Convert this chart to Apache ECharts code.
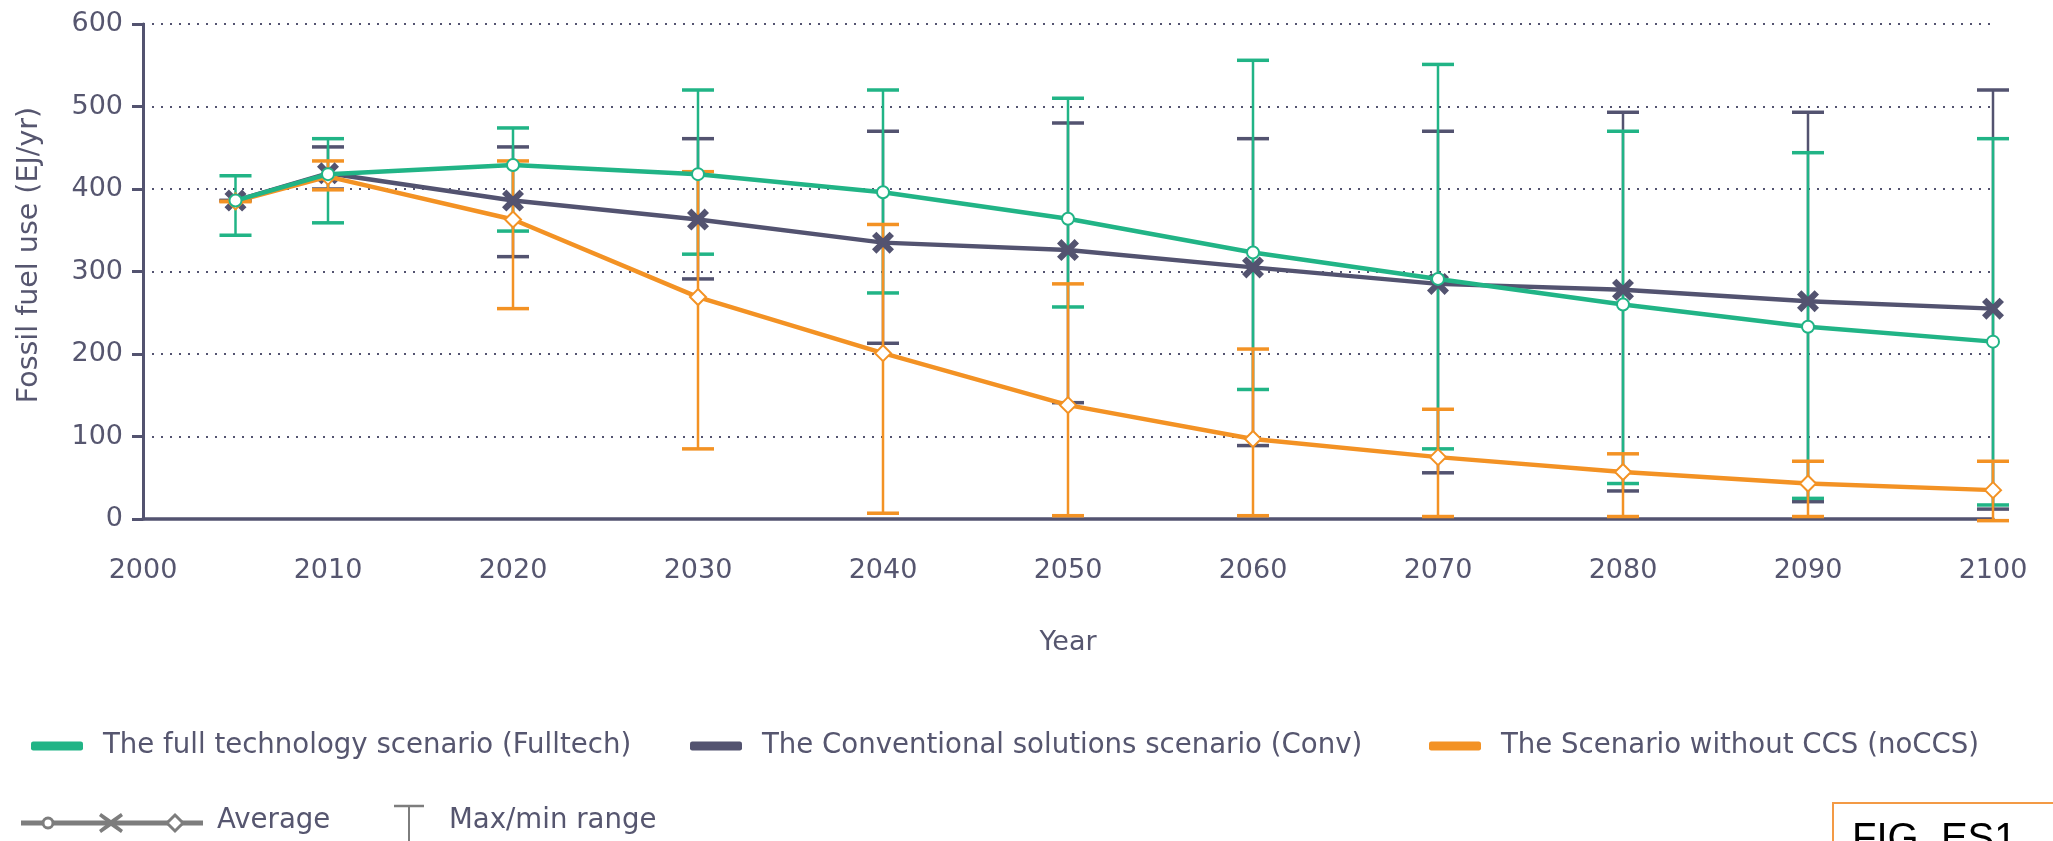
<!DOCTYPE html>
<html>
<head>
<meta charset="utf-8">
<title>Fossil fuel use</title>
<script src="https://cdn.jsdelivr.net/npm/echarts@6/dist/echarts.min.js"></script>
<style>
  html, body { margin: 0; padding: 0; background: #fff; }
  #chart { width: 2053px; height: 841px; }
</style>
</head>
<body>
<div id="chart"></div>
<script>
// years on the x axis
var years = [2005, 2010, 2020, 2030, 2040, 2050, 2060, 2070, 2080, 2090, 2100];
var xTicks = [2000, 2010, 2020, 2030, 2040, 2050, 2060, 2070, 2080, 2090, 2100];

// Fulltech
var fullAvg = [386, 418, 429, 418, 396, 364, 323, 291, 260, 233, 215];
var fullMax = [416, 461, 474, 520, 520, 510, 556, 551, 470, 444, 461];
var fullMin = [344, 359, 349, 321, 274, 257, 157, 85, 43, 25, 17];

// Conv
var convAvg = [386, 419, 386, 363, 335, 326, 305, 285, 278, 264, 255];
var convMax = [386, 451, 451, 461, 470, 480, 461, 470, 493, 493, 520];
var convMin = [386, 400, 318, 291, 213, 141, 89, 56, 34, 21, 12];

// noCCS
var noccsAvg = [385, 415, 363, 269, 201, 138, 97, 75, 57, 43, 35];
var noccsMax = [385, 434, 434, 421, 357, 285, 206, 133, 79, 70, 70];
var noccsMin = [385, 399, 255, 85, 7, 4, 4, 3, 3, 3, -2];

var names = [
  'The full technology scenario (Fulltech)',
  'The Conventional solutions scenario (Conv)',
  'The Scenario without CCS (noCCS)'
];

var green = '#21b486';
var slate = '#535370';
var orange = '#f39224';
var textColor = '#56566f';
var font = 'DejaVu Sans';

var pairs = function (avg) {
  return years.map(function (y, i) { return [y, avg[i]]; });
};
var ranges = function (hi, lo) {
  return years.map(function (y, i) { return [y, hi[i], lo[i]]; });
};

// vertical bar with caps, drawn from the axis scale
var errorBar = function (color) {
  return function (params, api) {
    var x = api.value(0);
    var top = api.coord([x, api.value(1)]);
    var bot = api.coord([x, api.value(2)]);
    var half = 16;
    return {
      type: 'group',
      children: [
        { type: 'line', shape: { x1: top[0], y1: top[1], x2: bot[0], y2: bot[1] },
          style: { stroke: color, lineWidth: 2.5 } },
        { type: 'line', shape: { x1: top[0] - half, y1: top[1], x2: top[0] + half, y2: top[1] },
          style: { stroke: color, lineWidth: 3.5 } },
        { type: 'line', shape: { x1: bot[0] - half, y1: bot[1], x2: bot[0] + half, y2: bot[1] },
          style: { stroke: color, lineWidth: 3.5 } }
      ]
    };
  };
};

var crossPath = 'path://M2,0 L5,3 L8,0 L10,2 L7,5 L10,8 L8,10 L5,7 L2,10 L0,8 L3,5 L0,2 Z';

var legendBase = function (left, name, color) {
  return {
    left: left,
    top: 726,
    orient: 'horizontal',
    icon: 'roundRect',
    itemWidth: 52,
    itemHeight: 9,
    data: [{ name: name, itemStyle: { color: color, borderWidth: 0 } }],
    textStyle: { color: textColor, fontSize: 27.6, fontFamily: font, padding: [0, 0, 0, 15], lineHeight: 30 }
  };
};

var chartDom = document.getElementById('chart');
var myChart = echarts.init(chartDom);

var gray = '#7d7d7d';
var row2 = 823;

var option = {
  animation: false,
  backgroundColor: '#fff',
  grid: { left: 143, right: 60, top: 24, bottom: 322 },
  legend: [
    legendBase(26, names[0], green),
    legendBase(685, names[1], slate),
    legendBase(1424, names[2], orange)
  ],
  xAxis: {
    type: 'value',
    min: 2000,
    max: 2100,
    interval: 10,
    name: 'Year',
    nameLocation: 'middle',
    nameGap: 110,
    nameTextStyle: { color: textColor, fontSize: 27, fontFamily: font },
    axisLine: { show: true, lineStyle: { color: slate, width: 3.5 } },
    axisTick: { show: false },
    splitLine: { show: false },
    axisLabel: {
      color: textColor, fontSize: 27, fontFamily: font, margin: 38,
      formatter: function (v) { return String(v); }
    }
  },
  yAxis: {
    type: 'value',
    min: 0,
    max: 600,
    interval: 100,
    name: 'Fossil fuel use (EJ/yr)',
    nameLocation: 'middle',
    nameGap: 99,
    nameTextStyle: { color: textColor, fontSize: 28.5, fontFamily: font, padding: [0, 0, 0, 33] },
    axisLine: { show: true, lineStyle: { color: slate, width: 3 } },
    axisTick: { show: true, length: 11, lineStyle: { color: slate, width: 3 } },
    axisLabel: { color: textColor, fontSize: 27, fontFamily: font, margin: 20 },
    splitLine: { show: true, lineStyle: { color: slate, width: 2, type: [2, 7] } }
  },
  graphic: [
    { type: 'line', shape: { x1: 21, y1: row2, x2: 203, y2: row2 }, style: { stroke: gray, lineWidth: 5 } },
    { type: 'circle', shape: { cx: 48, cy: row2, r: 5 }, style: { fill: '#fff', stroke: gray, lineWidth: 3 } },
    { type: 'polygon', shape: { points: [[101, 813], [111, 820], [121, 813], [123, 816], [114, 823], [123, 830], [121, 833], [111, 826], [101, 833], [99, 830], [108, 823], [99, 816]] }, style: { fill: gray } },
    { type: 'polygon', shape: { points: [[175, 815], [183, 823], [175, 831], [167, 823]] }, style: { fill: '#fff', stroke: gray, lineWidth: 3 } },
    { type: 'text', left: 217, top: row2 - 16, style: { text: 'Average', fill: textColor, font: '27.6px "' + font + '"' } },
    { type: 'line', shape: { x1: 409, y1: 806, x2: 409, y2: 845 }, style: { stroke: gray, lineWidth: 2 } },
    { type: 'line', shape: { x1: 394, y1: 806, x2: 424, y2: 806 }, style: { stroke: gray, lineWidth: 2.5 } },
    { type: 'text', left: 449, top: row2 - 16, style: { text: 'Max/min range', fill: textColor, font: '27.6px "' + font + '"' } },
    { type: 'rect', shape: { x: 1833, y: 803, width: 240, height: 60 }, style: { fill: '#fff', stroke: '#f39a45', lineWidth: 2 } },
    { type: 'text', left: 1852, top: 820, style: { text: 'FIG. ES1', fill: '#000', font: '40px "Liberation Sans"' } }
  ],
  series: [
    { name: 'Conv range', type: 'custom', z: 1, renderItem: errorBar(slate), encode: { x: 0, y: [1, 2] }, data: ranges(convMax, convMin) },
    { name: 'Fulltech range', type: 'custom', z: 2, renderItem: errorBar(green), encode: { x: 0, y: [1, 2] }, data: ranges(fullMax, fullMin) },
    { name: 'noCCS range', type: 'custom', z: 3, renderItem: errorBar(orange), encode: { x: 0, y: [1, 2] }, data: ranges(noccsMax, noccsMin) },
    {
      name: names[1], type: 'line', z: 4, data: pairs(convAvg),
      symbol: crossPath, symbolSize: 22,
      lineStyle: { color: slate, width: 4.5 },
      itemStyle: { color: slate }
    },
    {
      name: names[2], type: 'line', z: 5, data: pairs(noccsAvg),
      symbol: 'emptyDiamond', symbolSize: 16,
      lineStyle: { color: orange, width: 4.5 },
      itemStyle: { color: orange, borderWidth: 3 }
    },
    {
      name: names[0], type: 'line', z: 6, data: pairs(fullAvg),
      symbol: 'emptyCircle', symbolSize: 12,
      lineStyle: { color: green, width: 4.5 },
      itemStyle: { color: green, borderWidth: 3 }
    }
  ]
};

myChart.setOption(option);
</script>
</body>
</html>
